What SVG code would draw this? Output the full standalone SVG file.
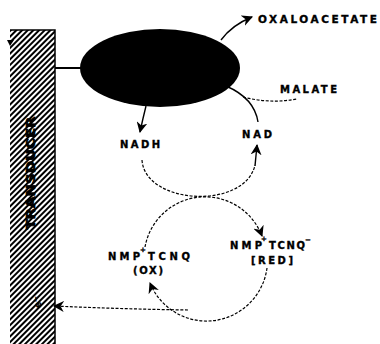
<svg xmlns="http://www.w3.org/2000/svg" width="380" height="344" viewBox="0 0 380 344">
<style>
.lbl{font-family:"DejaVu Sans","Liberation Sans",Arial,sans-serif;font-weight:bold;font-size:10px;fill:#000;stroke:#000;stroke-width:0.35}
.sup{font-size:7px}
.dot{fill:none;stroke:#000;stroke-width:1.2;stroke-dasharray:3 1.6}
.sol{fill:none;stroke:#000;stroke-width:1.4}
</style>
<defs>
<pattern id="hatch" width="4" height="4" patternUnits="userSpaceOnUse" patternTransform="rotate(45)">
<rect width="4" height="4" fill="#fff"/>
<line x1="1" y1="0" x2="1" y2="4" stroke="#000" stroke-width="2"/>
</pattern>
<marker id="ah" viewBox="0 0 10 10" refX="9" refY="5" markerWidth="11" markerHeight="11" markerUnits="userSpaceOnUse" orient="auto">
<path d="M0,0 L10,5 L0,10 L3,5 z" fill="#000"/>
</marker>
</defs>
<rect width="380" height="344" fill="#fff"/>
<g id="transducer">
<rect x="10" y="30" width="45" height="314" fill="url(#hatch)"/>
<path d="M10,30 H55 V344" fill="none" stroke="#000" stroke-width="1.5"/>
<polygon points="7,40 14,40 10,46" fill="#000"/>
<text class="lbl" transform="translate(35,173) rotate(-90)" text-anchor="middle" textLength="113" lengthAdjust="spacingAndGlyphs" style="font-size:13px;stroke-width:0.6">TRANSDUCER</text>
<text class="lbl" transform="translate(41,302) rotate(-90)" text-anchor="middle" style="font-size:9px">e<tspan class="sup" dy="-3">−</tspan></text>
</g>
<g id="enzyme">
<line x1="55" y1="68" x2="81" y2="68" stroke="#000" stroke-width="2"/>
<ellipse cx="160" cy="68" rx="80" ry="39" fill="#000"/>
</g>
<g id="oxaloacetate"><text class="lbl" x="258" y="23" textLength="119" lengthAdjust="spacing" style="font-size:10.5px">OXALOACETATE</text></g>
<g id="malate"><text class="lbl" x="280" y="93" textLength="57" lengthAdjust="spacing">MALATE</text></g>
<g id="nad"><text class="lbl" x="242" y="138" textLength="30" lengthAdjust="spacing">NAD</text></g>
<g id="nadh"><text class="lbl" x="120" y="148" textLength="40" lengthAdjust="spacing">NADH</text></g>
<g id="nmp-ox">
<text class="lbl" x="108" y="260" textLength="32" lengthAdjust="spacing">NMP</text>
<text class="lbl" x="140" y="252" style="font-size:7px">+</text>
<text class="lbl" x="148" y="260" textLength="42" lengthAdjust="spacing">TCNQ</text>
<text class="lbl" x="133" y="274" textLength="30" lengthAdjust="spacing">(OX)</text>
</g>
<g id="nmp-red">
<text class="lbl" x="230" y="249" textLength="32" lengthAdjust="spacing">NMP</text>
<text class="lbl" x="261" y="241" style="font-size:7px">+</text>
<text class="lbl" x="269" y="249" textLength="36" lengthAdjust="spacing">TCNQ</text>
<text class="lbl" x="305" y="242" style="font-size:7px">−</text>
<text class="lbl" x="251" y="264" textLength="42" lengthAdjust="spacing">[RED]</text>
</g>
<g id="connectors">
<path class="sol" d="M221,40 Q232,25 252,17" marker-end="url(#ah)"/>
<path class="sol" d="M226,86 C240,92 255,102 258,122"/>
<path class="dot" d="M243,97 Q270,104 297,99"/>
<path class="sol" d="M146,106 Q143,118 140,132" marker-end="url(#ah)"/>
<path class="dot" d="M142,160 C145,205 245,210 255,165"/>
<path class="sol" d="M255,166 L257,145" marker-end="url(#ah)"/>
<path class="dot" d="M145,247 A61,61 0 0,1 262,236" marker-end="url(#ah)"/>
<path class="dot" d="M267,268 A61,61 0 0,1 150,283" marker-end="url(#ah)"/>
<path class="dot" d="M188,310 Q120,309 54,306" marker-end="url(#ah)"/>
</g>
</svg>
